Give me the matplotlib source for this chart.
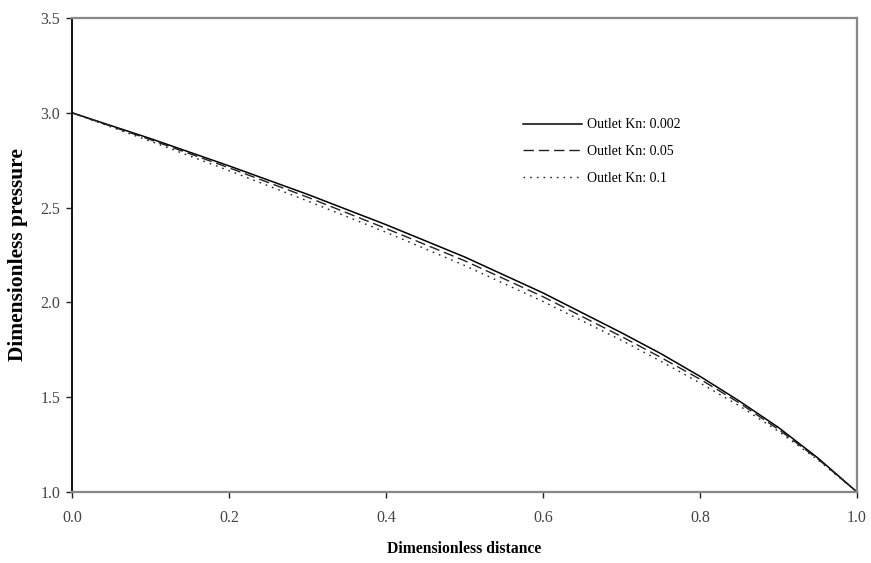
import matplotlib
matplotlib.use("Agg")
import matplotlib.pyplot as plt

x = [0.0, 0.1, 0.2, 0.3, 0.4, 0.5, 0.6, 0.7, 0.75, 0.8, 0.85, 0.9, 0.95, 1.0]
kn_0002 = [3.0, 2.864, 2.72, 2.57, 2.41, 2.24, 2.05, 1.84, 1.73, 1.61, 1.48, 1.34, 1.18, 1.0]
kn_005 = [3.0, 2.858, 2.71, 2.555, 2.39, 2.22, 2.03, 1.82, 1.71, 1.595, 1.47, 1.33, 1.175, 1.0]
kn_01 = [3.0, 2.85, 2.695, 2.535, 2.37, 2.195, 2.005, 1.80, 1.69, 1.575, 1.455, 1.32, 1.17, 1.0]
labels = ["Outlet Kn: 0.002", "Outlet Kn: 0.05", "Outlet Kn: 0.1"]
xticks = [0.0, 0.2, 0.4, 0.6, 0.8, 1.0]
yticks = [1.0, 1.5, 2.0, 2.5, 3.0, 3.5]

plt.rcParams['font.family'] = ['Liberation Serif', 'DejaVu Serif']
plt.rcParams['lines.scale_dashes'] = False

fig = plt.figure(figsize=(8.71, 5.63), dpi=100)
ax = fig.add_axes([72/871, 1-492/563, (857-72)/871, (492-18)/563])

ax.plot(x, kn_0002, color='black', lw=1.1, label=labels[0])
ax.plot(x, kn_005, color='#222222', lw=1.0, dashes=(7.5, 3.5), label=labels[1])
ax.plot(x, kn_01, color='#222222', lw=1.0, dashes=(1.2, 3.6), label=labels[2])

ax.set_xlim(0, 1.0)
ax.set_ylim(1.0, 3.5)
ax.set_xticks(xticks)
ax.set_yticks(yticks)
ax.set_xticklabels([f"{v:.1f}" for v in xticks])
ax.set_yticklabels([f"{v:.1f}" for v in yticks])
ax.tick_params(axis='both', direction='out', length=4, width=1, labelsize=11.5, labelcolor='#444444', color='#222222')
ax.tick_params(axis='x', pad=9)
ax.tick_params(axis='y', pad=4.5)

for s in ['top', 'right', 'bottom']:
    ax.spines[s].set_color('#888888')
    ax.spines[s].set_linewidth(1.6)
ax.spines['left'].set_color('black')
ax.spines['left'].set_linewidth(1.3)

ax.set_xlabel('Dimensionless distance', fontsize=11.3, fontweight='bold')
ax.xaxis.set_label_coords(0.5, (492-541)/474)
ax.set_ylabel('Dimensionless pressure', fontsize=15.5, fontweight='bold')
ax.yaxis.set_label_coords((28-72)/785, 0.5)

ax.legend(loc='upper left', bbox_to_anchor=(0.574, 0.788), frameon=False, fontsize=10,
          handlelength=4.3, handletextpad=0.36, labelspacing=0.99, borderpad=0, borderaxespad=0)

fig.savefig('out.png', dpi=100)
